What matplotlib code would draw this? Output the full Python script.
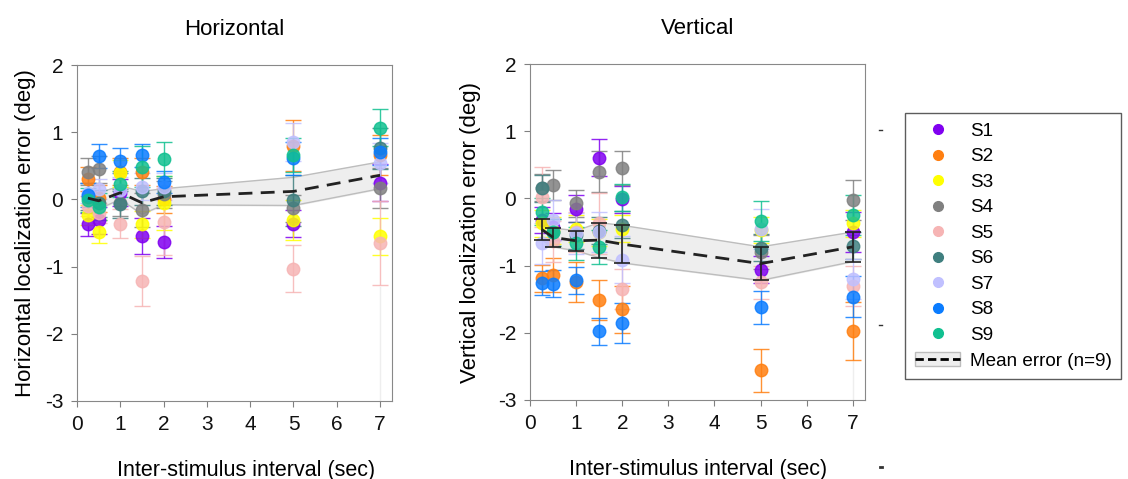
import matplotlib
matplotlib.use('Agg')
import matplotlib.pyplot as plt
from matplotlib.lines import Line2D
from matplotlib.patches import Patch

plt.rcParams['font.family'] = ['Liberation Sans', 'DejaVu Sans']
plt.rcParams['axes.unicode_minus'] = False

isi = [0.25, 0.5, 1, 1.5, 2, 5, 7]
subjects = ['S1', 'S2', 'S3', 'S4', 'S5', 'S6', 'S7', 'S8', 'S9']
colors = ['#8000f0', '#ff7f10', '#ffff00', '#808080', '#f6b4b4',
          '#3f7f7f', '#c0c0ff', '#0a7cff', '#10c090']

# horizontal error per subject (deg)
h_s1 = [-0.37, -0.31, 0.10, -0.54, -0.63, -0.36, 0.25]
h_s2 = [0.31, 0.02, 0.41, 0.41, 0.00, 0.80, 0.66]
h_s3 = [-0.23, -0.48, 0.39, -0.37, -0.05, -0.31, -0.55]
h_s4 = [0.41, 0.45, -0.05, -0.16, 0.08, -0.13, 0.17]
h_s5 = [-0.10, -0.20, -0.36, -1.21, -0.33, -1.03, -0.65]
h_s6 = [0.04, -0.06, -0.07, 0.12, 0.12, -0.01, 0.76]
h_s7 = [0.10, 0.16, 0.14, 0.19, 0.19, 0.86, 0.54]
h_s8 = [0.07, 0.65, 0.58, 0.66, 0.26, 0.61, 0.71]
h_s9 = [-0.01, -0.11, 0.23, 0.49, 0.60, 0.66, 1.07]

h_e1 = [0.17, 0.20, 0.20, 0.27, 0.24, 0.20, 0.28]
h_e2 = [0.18, 0.20, 0.20, 0.20, 0.20, 0.38, 0.30]
h_e3 = [0.15, 0.17, 0.20, 0.20, 0.40, 0.30, 0.27]
h_e4 = [0.20, 0.20, 0.20, 0.25, 0.20, 0.20, 0.30]
h_e5 = [0.15, 0.15, 0.22, 0.37, 0.50, 0.35, 0.63]
h_e6 = [0.20, 0.20, 0.20, 0.20, 0.20, 0.38, 0.30]
h_e7 = [0.15, 0.15, 0.20, 0.20, 0.20, 0.28, 0.30]
h_e8 = [0.18, 0.18, 0.19, 0.17, 0.17, 0.25, 0.20]
h_e9 = [0.18, 0.20, 0.20, 0.30, 0.25, 0.25, 0.28]

# vertical error per subject (deg)
v_s1 = [-0.32, -0.42, -0.15, 0.61, -0.01, -1.06, -0.50]
v_s2 = [-1.19, -1.14, -1.24, -1.51, -1.65, -2.56, -1.97]
v_s3 = [-0.37, -0.48, -0.45, -0.50, -0.45, -0.47, -0.37]
v_s4 = [0.16, 0.20, -0.07, 0.40, 0.45, -0.80, -0.02]
v_s5 = [0.02, -0.64, -0.50, -0.37, -1.35, -1.25, -1.30]
v_s6 = [0.15, -0.50, -0.55, -0.48, -0.39, -0.73, -0.70]
v_s7 = [-0.67, -0.32, -0.52, -0.50, -0.91, -0.45, -1.20]
v_s8 = [-1.26, -1.27, -1.22, -1.98, -1.85, -1.62, -1.46]
v_s9 = [-0.20, -0.50, -0.67, -0.72, 0.02, -0.34, -0.25]

v_e1 = [0.20, 0.20, 0.20, 0.27, 0.20, 0.20, 0.30]
v_e2 = [0.20, 0.25, 0.30, 0.30, 0.35, 0.32, 0.43]
v_e3 = [0.20, 0.20, 0.20, 0.20, 0.20, 0.20, 0.20]
v_e4 = [0.20, 0.22, 0.20, 0.30, 0.25, 0.25, 0.30]
v_e5 = [0.45, 0.30, 0.30, 0.45, 0.30, 0.25, 0.30]
v_e6 = [0.20, 0.20, 0.20, 0.20, 0.20, 0.20, 0.20]
v_e7 = [0.30, 0.30, 0.30, 0.30, 0.35, 0.30, 0.30]
v_e8 = [0.18, 0.20, 0.20, 0.20, 0.30, 0.25, 0.30]
v_e9 = [0.20, 0.20, 0.25, 0.25, 0.20, 0.30, 0.30]

# group mean and SE
h_mean = [0.02, -0.02, 0.10, -0.05, 0.04, 0.12, 0.36]
h_se = [0.12, 0.12, 0.10, 0.17, 0.12, 0.21, 0.20]
v_mean = [-0.46, -0.58, -0.63, -0.62, -0.68, -0.97, -0.72]
v_se = [0.16, 0.14, 0.15, 0.26, 0.28, 0.25, 0.22]

h_vals = [h_s1, h_s2, h_s3, h_s4, h_s5, h_s6, h_s7, h_s8, h_s9]
h_errs = [h_e1, h_e2, h_e3, h_e4, h_e5, h_e6, h_e7, h_e8, h_e9]
v_vals = [v_s1, v_s2, v_s3, v_s4, v_s5, v_s6, v_s7, v_s8, v_s9]
v_errs = [v_e1, v_e2, v_e3, v_e4, v_e5, v_e6, v_e7, v_e8, v_e9]

fig = plt.figure(figsize=(11.28, 4.79), dpi=100)
ax1 = fig.add_axes([0.0683, 0.163, 0.279, 0.701])
ax2 = fig.add_axes([0.470, 0.165, 0.297, 0.701])


def draw_panel(ax, vals, errs, mean, se, title, ylabel, mean_bars, ylpad):
    lo = [m - s for m, s in zip(mean, se)]
    hi = [m + s for m, s in zip(mean, se)]
    ax.fill_between(isi, lo, hi, color='#eeeeee', zorder=1)
    ax.plot(isi, lo, color='#bdbdbd', lw=1, zorder=1)
    ax.plot(isi, hi, color='#bdbdbd', lw=1, zorder=1)
    ax.plot([7, 7], [-3, -1.3], color='#eeeeee', lw=1, zorder=0)
    for v, e, c in zip(vals, errs, colors):
        ax.errorbar(isi, v, yerr=e, fmt='o', color=c, ms=9, capsize=6,
                    elinewidth=1, capthick=1, alpha=0.85, zorder=2)
    if mean_bars:
        ax.errorbar(isi, mean, yerr=se, fmt='none', ecolor='#222222',
                    capsize=6, elinewidth=1.2, capthick=1.2, zorder=3)
    ax.plot(isi, mean, color='#222222', lw=2, dashes=(5, 3), zorder=4)
    ax.set_xlim(0, 7.27)
    ax.set_ylim(-3, 2)
    ax.set_xticks(range(8))
    ax.set_yticks([-3, -2, -1, 0, 1, 2])
    ax.tick_params(labelsize=15, colors='#808080', labelcolor='#111111',
                   length=4, direction='out', pad=6)
    for s in ax.spines.values():
        s.set_color('#888888')
    ax.set_title(title, fontsize=16, pad=22)
    ax.set_xlabel('Inter-stimulus interval (sec)', fontsize=15.5, labelpad=17)
    ax.set_ylabel(ylabel, fontsize=16, labelpad=ylpad)


draw_panel(ax1, h_vals, h_errs, h_mean, h_se, 'Horizontal',
           'Horizontal localization error (deg)', False, 6)
draw_panel(ax2, v_vals, v_errs, v_mean, v_se, 'Vertical',
           'Vertical localization error (deg)', True, 12)
ax1.xaxis.set_label_coords(0.538, -0.175)
ax2.xaxis.set_label_coords(0.5, -0.175)

handles = [Line2D([], [], ls='none', marker='o', ms=7, color=c) for c in colors]
mean_handle = (Patch(facecolor='#eeeeee', edgecolor='#bdbdbd'),
               Line2D([], [], color='black', lw=2, dashes=(3, 1.5)))
labels = subjects + ['Mean error (n=9)']
leg = fig.legend(handles + [mean_handle], labels, loc='upper right',
                 bbox_to_anchor=(0.9938, 0.764), fontsize=13.6, frameon=True,
                 fancybox=False, edgecolor='#333333', labelspacing=0.44,
                 handlelength=2.4, handletextpad=0.5, borderpad=0.5,
                 borderaxespad=0)
leg.get_frame().set_linewidth(1)

# small stray marks beside the right panel
fig.add_artist(Line2D([0.779, 0.782], [0.729, 0.729], color='#333333', lw=1))
fig.add_artist(Line2D([0.779, 0.782], [0.321, 0.321], color='#333333', lw=1))
fig.add_artist(Line2D([0.780, 0.782], [0.025, 0.025], color='#333333', lw=2))

fig.savefig('out.png', dpi=100, facecolor='white')
